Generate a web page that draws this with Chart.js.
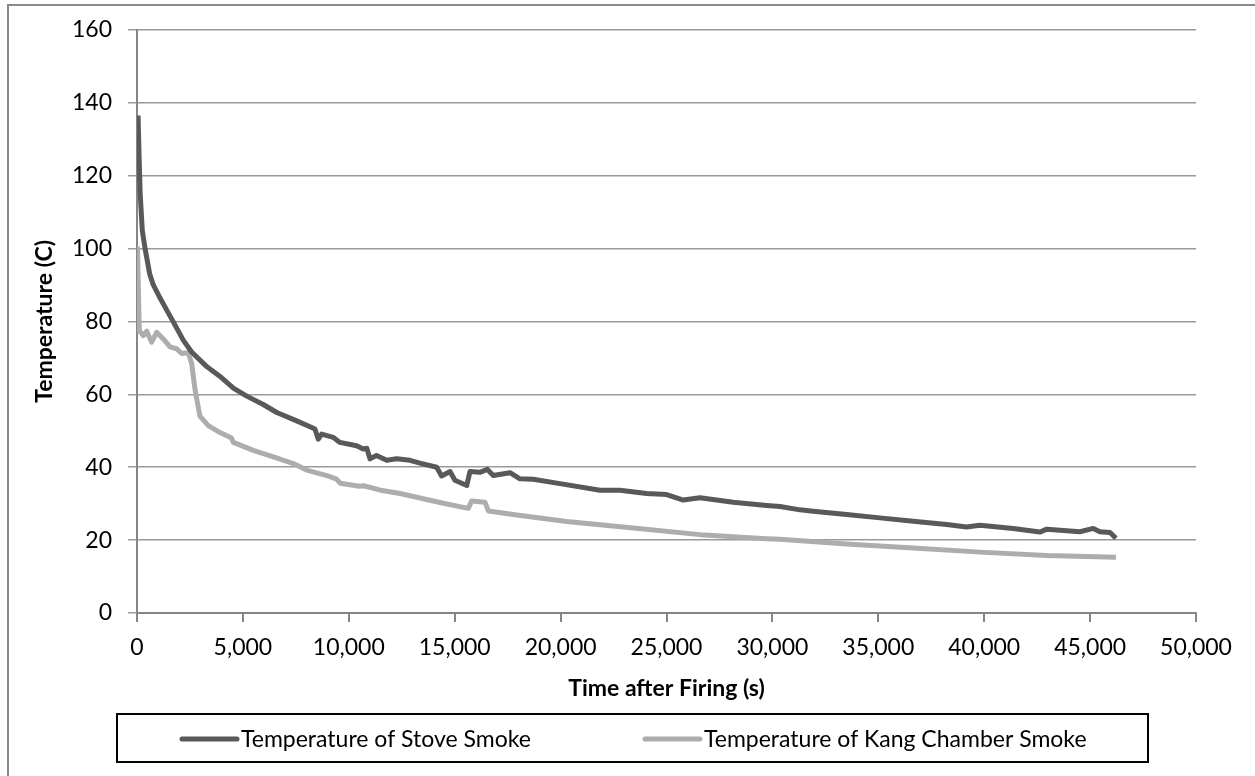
<!doctype html>
<html lang="en">
<head>
<meta charset="UTF-8">
<title>Temperature after firing</title>
<script src="https://cdn.jsdelivr.net/npm/chart.js@4.4.1/dist/chart.umd.min.js"></script>
<style>
	body { margin: 0; background: #fff; }
	#frame { position: absolute; left: 7px; top: 4px; width: 1400px; height: 900px;
		border-left: 2px solid #8a8a8a; border-top: 2px solid #8a8a8a; }
	#chart-area { position: absolute; left: 0; top: 0; }
</style>
</head>
<body>
	<div id="frame"></div>
	<canvas id="chart-area" width="1255" height="776"></canvas>
	<script>
	// values (time in s, temperature in C)
	var stoveTime = [50, 100, 150, 250, 380, 600, 770, 1090, 1300, 1700, 2190, 2580, 3290, 3920, 4550, 5180, 5960, 6600, 7540, 8250, 8400, 8560, 8720, 9260, 9580, 10370, 10680, 10850, 11000, 11310, 11790, 12260, 12890, 13360, 14150, 14380, 14780, 15010, 15570, 15720, 16190, 16540, 16820, 17610, 18080, 18710, 19970, 21860, 22800, 24060, 25010, 25790, 26580, 28150, 29730, 30360, 31300, 31930, 33500, 35080, 36650, 38230, 39170, 39800, 41370, 42630, 42950, 44520, 45150, 45460, 45940, 46220];
	var stoveTemp = [136.5, 125, 115, 105, 100, 93, 90, 86.4, 84.2, 80, 74.8, 71.6, 67.6, 64.9, 61.7, 59.5, 57.2, 55, 52.7, 50.9, 50.5, 47.7, 49.1, 48.2, 46.8, 45.9, 45.0, 45.2, 42.3, 43.2, 41.9, 42.3, 41.9, 41.1, 40.0, 37.6, 38.8, 36.4, 35.0, 38.8, 38.6, 39.4, 37.7, 38.5, 36.8, 36.7, 35.5, 33.7, 33.7, 32.8, 32.5, 31.0, 31.6, 30.4, 29.5, 29.2, 28.3, 27.9, 27.0, 26.1, 25.2, 24.3, 23.6, 24.1, 23.2, 22.2, 23.0, 22.3, 23.2, 22.3, 22.1, 20.5];
	var kangTime = [20, 110, 300, 460, 690, 930, 1240, 1560, 1870, 2110, 2420, 2580, 2740, 2970, 3370, 3920, 4390, 4460, 4550, 5490, 6440, 7380, 8010, 9000, 9400, 9600, 10500, 10700, 11500, 12420, 14460, 15640, 15800, 16430, 16590, 17930, 20290, 23430, 26580, 29730, 30360, 33500, 36650, 39800, 42950, 46220];
	var kangTemp = [100.5, 77.5, 76.1, 77.3, 74.3, 77.0, 75.2, 73, 72.5, 71.2, 71.4, 68.5, 61.3, 54, 51.4, 49.5, 48.2, 48.0, 46.8, 44.6, 42.8, 41.0, 39.2, 37.6, 36.8, 35.6, 34.8, 34.9, 33.7, 32.8, 30.1, 28.7, 30.7, 30.4, 28.0, 26.9, 25.1, 23.3, 21.5, 20.4, 20.2, 18.9, 17.8, 16.7, 15.8, 15.3];
	var seriesNames = ['Temperature of Stove Smoke', 'Temperature of Kang Chamber Smoke'];
	var seriesColors = ['#595959', '#adadad'];
	var yTicks = [0, 20, 40, 60, 80, 100, 120, 140, 160];
	var xTicks = [0, 5000, 10000, 15000, 20000, 25000, 30000, 35000, 40000, 45000, 50000];

	var FONT = 'Lato';
	var axisGray = '#868686';

	function pairs(xs, ys) {
		var out = [];
		for (var i = 0; i < xs.length; i++) out.push({x: xs[i], y: ys[i]});
		return out;
	}

	// excel-like legend: boxed, with a thick line sample before each name
	var boxLegend = {
		id: 'boxLegend',
		afterDraw: function(chart) {
			var ctx = chart.ctx;
			var top = chart.scales.x.bottom;
			var starts = [182, 645];
			ctx.save();
			ctx.strokeStyle = '#000';
			ctx.lineWidth = 2;
			ctx.strokeRect(117, top, 1031, 48);
			ctx.font = '23px ' + FONT;
			ctx.textBaseline = 'middle';
			ctx.fillStyle = '#000';
			chart.data.datasets.forEach(function(ds, i) {
				var y = top + 25;
				ctx.strokeStyle = ds.borderColor;
				ctx.lineWidth = 5;
				ctx.lineCap = 'round';
				ctx.beginPath();
				ctx.moveTo(starts[i], y);
				ctx.lineTo(starts[i] + 55, y);
				ctx.stroke();
				ctx.fillText(ds.label, starts[i] + 59, y + 1);
			});
			ctx.restore();
		}
	};

	var config = {
		type: 'line',
		data: {
			datasets: [{
				label: seriesNames[0],
				data: pairs(stoveTime, stoveTemp),
				borderColor: seriesColors[0],
				borderWidth: 5,
				borderJoinStyle: 'round',
				pointRadius: 0,
				tension: 0
			}, {
				label: seriesNames[1],
				data: pairs(kangTime, kangTemp),
				borderColor: seriesColors[1],
				borderWidth: 5,
				borderJoinStyle: 'round',
				pointRadius: 0,
				tension: 0
			}]
		},
		options: {
			responsive: false,
			animation: false,
			devicePixelRatio: 1,
			layout: { padding: { left: 0, top: 21, right: 59, bottom: 62 } },
			plugins: {
				legend: { display: false },
				tooltip: { enabled: false }
			},
			scales: {
				x: {
					type: 'linear',
					min: 0,
					max: 50000,
					afterBuildTicks: function(s) { s.ticks = xTicks.map(function(v) { return {value: v}; }); },
					afterFit: function(s) { s.height = 101; },
					ticks: {
						color: '#000',
						font: { family: FONT, size: 23 },
						padding: 12,
						maxRotation: 0,
						autoSkip: false,
						callback: function(v) { return v.toLocaleString('en-US'); }
					},
					grid: { drawOnChartArea: false, drawTicks: true, tickLength: 9, color: axisGray, lineWidth: 2 },
					border: { color: axisGray, width: 2 },
					title: {
						display: true,
						text: 'Time after Firing (s)',
						color: '#000',
						font: { family: FONT, size: 23, weight: 'bold' },
						padding: { top: 0, bottom: 12 }
					}
				},
				y: {
					min: 0,
					max: 160,
					afterBuildTicks: function(s) { s.ticks = yTicks.map(function(v) { return {value: v}; }); },
					afterFit: function(s) { s.width = 137; },
					ticks: {
						color: '#000',
						font: { family: FONT, size: 23 },
						padding: 16
					},
					grid: { color: '#9a9a9a', lineWidth: 1.5, tickLength: 9 },
					border: { color: axisGray, width: 2 },
					title: {
						display: true,
						text: 'Temperature (C)',
						color: '#000',
						font: { family: FONT, size: 23, weight: 'bold' },
						padding: { top: 31, bottom: 0 }
					}
				}
			}
		},
		plugins: [boxLegend]
	};

	window.onload = function() {
		var ctx = document.getElementById('chart-area').getContext('2d');
		window.myLine = new Chart(ctx, config);
	};
	</script>
</body>
</html>
